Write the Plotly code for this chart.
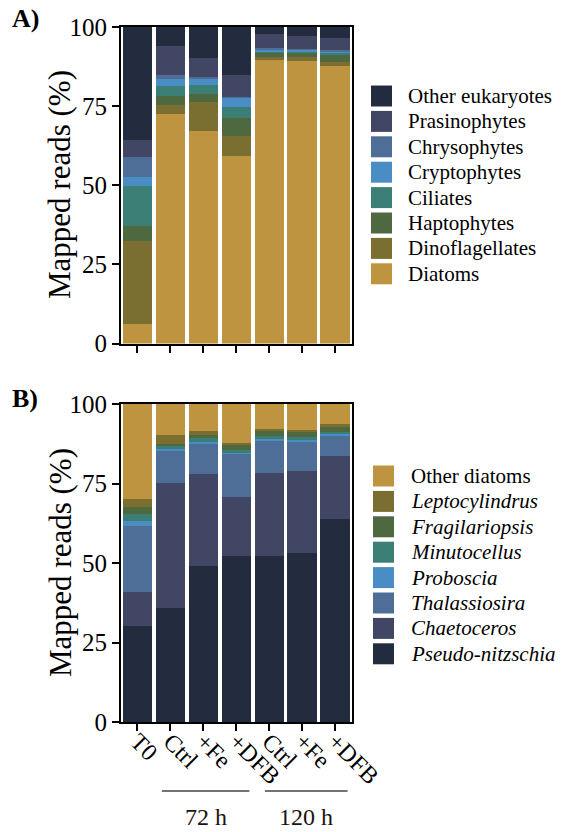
import plotly.graph_objects as go

# Sample labels along the x axis (duplicated names, so bars sit at integer positions)
conditions = ["T0", "Ctrl", "+Fe", "+DFB", "Ctrl", "+Fe", "+DFB"]
time_groups = ["72 h", "120 h"]

# ---- Panel A: eukaryotic groups, % of mapped reads (stack order bottom -> top)
euk_names = ["Diatoms", "Dinoflagellates", "Haptophytes", "Ciliates",
             "Cryptophytes", "Chrysophytes", "Prasinophytes", "Other eukaryotes"]
diatoms = [6.3, 72.6, 67.3, 59.2, 89.6, 89.3, 87.8]
dinoflagellates = [26.1, 2.7, 8.9, 6.4, 1.0, 1.1, 1.2]
haptophytes = [4.7, 2.9, 2.6, 5.5, 1.3, 1.4, 2.2]
ciliates = [12.6, 3.2, 2.9, 3.7, 0.5, 0.5, 0.6]
cryptophytes = [3.0, 2.2, 1.8, 2.9, 0.6, 0.6, 0.6]
chrysophytes = [6.3, 1.2, 0.8, 0.3, 0.3, 0.3, 0.3]
prasinophytes = [5.3, 9.3, 5.8, 6.8, 4.6, 4.1, 3.7]
other_eukaryotes = [35.7, 5.9, 9.9, 15.2, 2.1, 2.7, 3.6]
euk_values = [diatoms, dinoflagellates, haptophytes, ciliates,
              cryptophytes, chrysophytes, prasinophytes, other_eukaryotes]

# ---- Panel B: diatom genera, % of mapped reads (stack order bottom -> top)
dia_names = ["Pseudo-nitzschia", "Chaetoceros", "Thalassiosira", "Proboscia",
             "Minutocellus", "Fragilariopsis", "Leptocylindrus", "Other diatoms"]
dia_italic = [True, True, True, True, True, True, True, False]
pseudo_nitzschia = [30.2, 35.7, 49.1, 52.2, 52.3, 53.0, 63.8]
chaetoceros = [10.7, 39.4, 29.0, 18.6, 26.1, 25.9, 19.9]
thalassiosira = [20.8, 10.4, 9.5, 13.5, 10.1, 9.4, 6.4]
proboscia = [1.5, 0.3, 0.3, 0.6, 0.4, 0.3, 0.4]
minutocellus = [2.1, 1.1, 1.3, 0.5, 0.9, 1.1, 0.8]
fragilariopsis = [2.4, 0.5, 1.1, 1.6, 1.6, 1.4, 1.7]
leptocylindrus = [2.3, 2.7, 1.2, 0.7, 0.8, 0.7, 0.6]
other_diatoms = [30.0, 9.9, 8.5, 12.3, 7.8, 8.2, 6.4]
dia_values = [pseudo_nitzschia, chaetoceros, thalassiosira, proboscia,
              minutocellus, fragilariopsis, leptocylindrus, other_diatoms]

y_ticks = [0, 25, 50, 75, 100]

# Colours, one per stack level
euk_colors = ["#be9440", "#7a6e30", "#4e6840", "#3a7e76",
              "#4a8cc4", "#4e6e98", "#404664", "#232c3e"]
dia_colors = ["#232c3e", "#404664", "#4e6e98", "#4a8cc4",
              "#3a7e76", "#4e6840", "#7a6e30", "#be9440"]

W, H = 585, 832
FONT = "Liberation Serif"
xpos = list(range(len(conditions)))


def fnt(size, color="black"):
    return dict(family=FONT, size=size, color=color)


fig = go.Figure()
for name, vals, col in zip(euk_names, euk_values, euk_colors):
    fig.add_trace(go.Bar(x=xpos, y=vals, name=name, marker_color=col,
                         marker_line_width=0, xaxis="x", yaxis="y",
                         showlegend=False))
for name, vals, col in zip(dia_names, dia_values, dia_colors):
    fig.add_trace(go.Bar(x=xpos, y=vals, name=name, marker_color=col,
                         marker_line_width=0, xaxis="x2", yaxis="y2",
                         showlegend=False))


def px_x(v):
    return v / W


def px_y(v):
    return 1 - v / H


xdom = [px_x(121), px_x(351.5)]
axis_common = dict(showline=True, linecolor="black", linewidth=2, mirror=True,
                   ticks="outside", tickcolor="black", tickwidth=2, ticklen=7,
                   showgrid=False, zeroline=False, automargin=False)

fig.update_layout(
    width=W, height=H, margin=dict(l=0, r=0, t=0, b=0, autoexpand=False),
    paper_bgcolor="white", plot_bgcolor="white",
    barmode="stack", bargap=0.11,
    font=fnt(20),
    xaxis=dict(domain=xdom, anchor="y", range=[-0.5, 6.5],
               tickvals=xpos, ticktext=[""] * len(xpos), **axis_common),
    yaxis=dict(domain=[px_y(343.5), px_y(27)], anchor="x", range=[0, 100],
               tickvals=y_ticks, tickfont=fnt(25), **axis_common),
    xaxis2=dict(domain=xdom, anchor="y2", range=[-0.5, 6.5],
                tickvals=xpos, ticktext=conditions, tickangle=45,
                ticklabelstandoff=-13, tickfont=fnt(24), **axis_common),
    yaxis2=dict(domain=[px_y(722), px_y(404)], anchor="x2", range=[0, 100],
                tickvals=y_ticks, tickfont=fnt(25), **axis_common),
)

annotations = []
shapes = []

# Axis titles and panel letters
for yc in (185, 563):
    annotations.append(dict(text="Mapped reads (%)", textangle=-90,
                            x=px_x(60), y=px_y(yc), xref="paper", yref="paper",
                            xanchor="center", yanchor="middle",
                            showarrow=False, font=fnt(31)))
for letter, yc in (("A)", 19), ("B)", 398)):
    annotations.append(dict(text=f"<b>{letter}</b>", x=px_x(10), y=px_y(yc),
                            xref="paper", yref="paper", xanchor="left",
                            yanchor="middle", showarrow=False,
                            font=fnt(26)))

# Legends (top of the stack listed first)
row_gap = 25.4


def add_legend(names, colors, italic, x_sw, x_txt, y0):
    for i, (nm, col, it) in enumerate(zip(names, colors, italic)):
        yc = y0 + i * row_gap
        shapes.append(dict(type="rect", xref="paper", yref="paper",
                           x0=px_x(x_sw), x1=px_x(x_sw + 21),
                           y0=px_y(yc + 10.5), y1=px_y(yc - 10.5),
                           fillcolor=col, line=dict(width=0)))
        label = f"<i>{nm}</i>" if it else nm
        annotations.append(dict(text=label, x=px_x(x_txt), y=px_y(yc),
                                xref="paper", yref="paper", xanchor="left",
                                yanchor="middle", showarrow=False,
                                font=fnt(21)))


add_legend(euk_names[::-1], euk_colors[::-1], [False] * 8, 371, 406, 96)
add_legend(dia_names[::-1], dia_colors[::-1], dia_italic[::-1], 373, 409, 476)

# Time-point brackets under panel B
for label, (a, b) in zip(time_groups, [(0.74, 3.4), (3.87, 6.38)]):
    shapes.append(dict(type="line", xref="x2", yref="paper", x0=a, x1=b,
                       y0=px_y(791), y1=px_y(791),
                       line=dict(color="#444444", width=1.5)))
    annotations.append(dict(text=label, x=(a + b) / 2, y=px_y(817), xref="x2",
                            yref="paper", xanchor="center", yanchor="middle",
                            showarrow=False, font=fnt(24, "#1a1410")))

fig.update_layout(annotations=annotations, shapes=shapes)
fig.write_html("out.html")
